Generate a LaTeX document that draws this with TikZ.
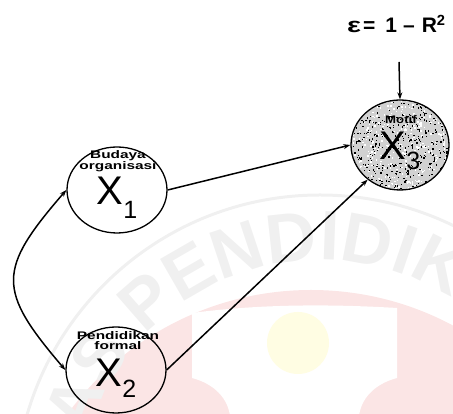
\documentclass[tikz,border=0pt]{standalone}
\usepackage{fontspec}
\setmainfont{Liberation Sans}
\usetikzlibrary{arrows.meta,shapes.geometric,decorations.text}
\definecolor{wmgrey}{HTML}{F0F0F0}
\definecolor{wmpink}{HTML}{FBE5E5}
\definecolor{wmyellow}{HTML}{FFFDE3}
\begin{document}
\begin{tikzpicture}[x=1pt,y=1pt,
  var/.style={draw=black, line width=1.3pt, ellipse, minimum width=100pt, minimum height=86pt, inner sep=0pt},
  lbl/.style={font=\bfseries\fontsize{11}{10}\selectfont, align=center, inner sep=0pt},
  bigx/.style={font=\fontsize{40}{40}\selectfont, inner sep=0pt, anchor=base},
  link/.style={line width=1.5pt, -{Stealth[length=7pt,width=5pt]}},
  tip/.tip={Stealth[length=7pt,width=5pt]}
]
\useasboundingbox (0,0) rectangle (453,414);
\clip (0,0) rectangle (453,414);

% background emblem
\fill[wmpink] (311,-177) circle[radius=301];
\fill[white] (192,36) -- (192,101) .. controls (260,110) and (330,110) .. (397,106)
  -- (397,36) .. controls (374,30) and (361,15) .. (359,-2)
  -- (230,-2) .. controls (228,15) and (215,30) .. (192,36) -- cycle;
\fill[wmyellow] (298,71) circle[radius=31];
\draw[wmgrey, line width=3pt] (320,-86) circle[radius=305];
\path[decorate, decoration={text along path, text color=wmgrey,
    text={|\bfseries\fontsize{70}{70}\selectfont|TAS PENDIDIK}}]
  (320,-86) ++(174.7:240) arc[start angle=174.7, end angle=40, radius=240];

% stippled fill of the dependent variable
\begin{scope}
  \clip (400,269) ellipse [x radius=49, y radius=45];
  \fill[black!18] (350,223) rectangle (450,315);
  \pgfmathsetseed{7}
  \foreach \i in {1,...,480}{
    \fill[black] ({400+50*rand},{269+46*rand}) rectangle ++(1.3,1.3);
  }
  \foreach \i in {1,...,380}{
    \fill[white] ({400+50*rand},{269+46*rand}) rectangle ++(1.4,1.4);
  }
\end{scope}

% variables
\node[var] (x1) at (117,224) {};
\node[var] (x2) at (116,44) {};
\node[var, minimum width=98pt, minimum height=90pt] (x3) at (400,269) {};

\node[lbl, anchor=north] (l1) at (118,264) {\scalebox{1.4}[1]{Budaya}\\\scalebox{1.4}[1]{organisasi}};
\node[bigx] (s1) at (117,209) {X\raisebox{-14pt}{\fontsize{25}{25}\selectfont 1}};

\node[lbl, anchor=north] (l2) at (118,83) {\scalebox{1.4}[1]{Pendidikan}\\\scalebox{1.4}[1]{formal}};
\node[bigx] (s2) at (116,27) {X\raisebox{-11pt}{\fontsize{25}{25}\selectfont 2}};

\node[lbl] (l3) at (401,294) {\scalebox{1.2}[1]{Motif}};
\node[bigx] (s3) at (400,254) {X\raisebox{-10pt}{\fontsize{25}{25}\selectfont 3}};

% residual
\node[font=\bfseries\fontsize{21}{21}\selectfont, anchor=base west, inner sep=0pt] (eps)
  at (347,381) {\scalebox{1.4}[1]{ε}\hspace{2pt}=\hspace{10pt}1\hspace{6pt}–\hspace{7pt}R\textsuperscript{2}};
\coordinate (etop) at (399,352);

% paths
\draw[link] (etop) -- (x3.north);
\draw[link] (x1.east) -- (x3.west);
\draw[link] (x2.east) -- (x3.-133);
\draw[line width=1.5pt, tip-tip] (x1.west) .. controls (-3,144) and (-3,124) .. (x2.west);
\end{tikzpicture}
\end{document}
